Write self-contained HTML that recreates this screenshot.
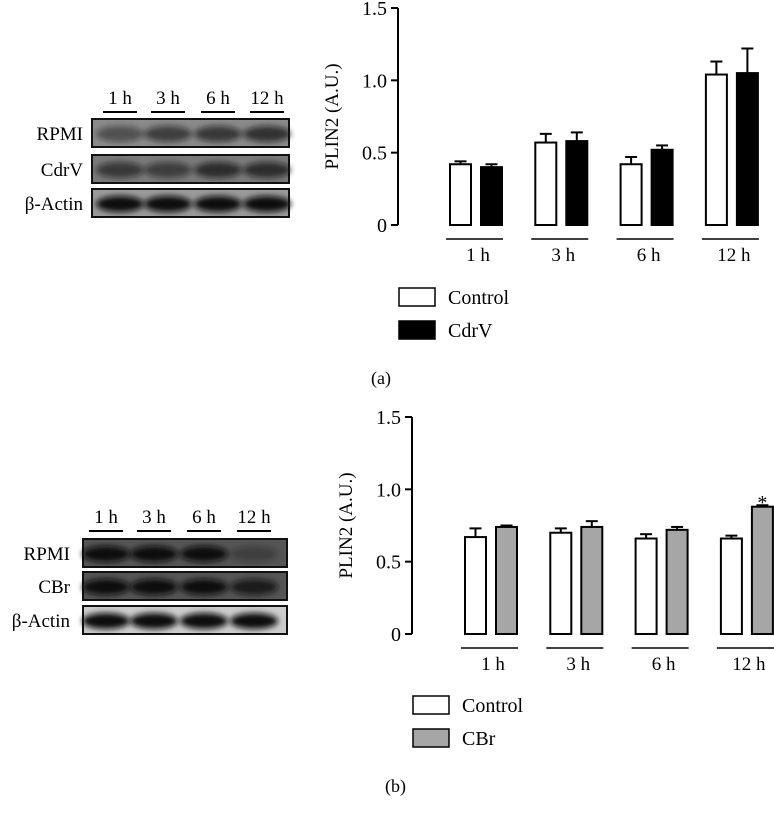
<!DOCTYPE html>
<html><head><meta charset="utf-8"><style>
body{margin:0;background:#fff}
svg{display:block;font-family:"Liberation Serif",serif}
</style></head><body>
<svg id="s" width="774" height="814" viewBox="0 0 774 814">
<defs><filter id="bl" x="-30%" y="-60%" width="160%" height="220%"><feGaussianBlur stdDeviation="3"/></filter></defs>
<g id="blots"></g>
<g id="chartA"></g>
<g id="chartB"></g>
</svg>
<script>
const categories=["1 h","3 h","6 h","12 h"];
const ticks=[0,0.5,1.0,1.5];
const tickLabels=["0","0.5","1.0","1.5"];
const controlA=[0.42,0.57,0.42,1.04];
const controlAErr=[0.02,0.06,0.05,0.09];
const cdrvA=[0.40,0.58,0.52,1.05];
const cdrvAErr=[0.02,0.06,0.03,0.17];
const controlB=[0.67,0.70,0.66,0.66];
const controlBErr=[0.06,0.03,0.03,0.02];
const cbrB=[0.74,0.74,0.72,0.88];
const cbrBErr=[0.01,0.04,0.02,0.01];
const NS="http://www.w3.org/2000/svg";
function mk(p,t,a,txt){const e=document.createElementNS(NS,t);for(const k in a)e.setAttribute(k,a[k]);if(txt!=null)e.textContent=txt;p.appendChild(e);return e;}

function chart(g,cfg){
  const y=v=>cfg.y0-(v/1.5)*(cfg.y0-cfg.y15);
  cfg.yf=y;
  let a=mk(g,'line',{x1:cfg.ax,y1:cfg.y15,x2:cfg.ax,y2:cfg.y0,stroke:'#000','stroke-width':2});
  
  ticks.forEach((t,i)=>{
    let l=mk(g,'line',{x1:cfg.ax-7,y1:y(t),x2:cfg.ax,y2:y(t),stroke:'#000','stroke-width':2});
    
    let tx=mk(g,'text',{x:cfg.ax-11,y:y(t)+7,'text-anchor':'end','font-size':20},tickLabels[i]);
    
  });
  let yt=mk(g,'text',{transform:`translate(${cfg.ax-60},${(cfg.y0+cfg.y15)/2}) rotate(-90)`,'text-anchor':'middle','font-size':19},'PLIN2 (A.U.)');
  
  categories.forEach((c,i)=>{
    const gx=cfg.g0+i*cfg.gs, bw=21;
    [[cfg.s1,cfg.e1,'#fff'],[cfg.s2,cfg.e2,cfg.fill2]].forEach((s,j)=>{
      const x=gx+j*31, v=s[0][i], e=s[1][i];
      let el=mk(g,'line',{x1:x+bw/2,y1:y(v),x2:x+bw/2,y2:y(v+e),stroke:'#000','stroke-width':2});
      
      let ec=mk(g,'line',{x1:x+bw/2-6,y1:y(v+e),x2:x+bw/2+6,y2:y(v+e),stroke:'#000','stroke-width':2});
      
      let r=mk(g,'rect',{x:x,y:y(v),width:bw,height:y(0)-y(v),fill:s[2],stroke:'#000','stroke-width':2});
      
    });
    let gl=mk(g,'line',{x1:gx-4,y1:cfg.gly,x2:gx+53,y2:cfg.gly,stroke:'#000','stroke-width':1.5});
    
    let lb=mk(g,'text',{x:gx+28,y:cfg.gly+22,'text-anchor':'middle','font-size':19},c);
    
  });
  [['#fff','Control'],[cfg.fill2,cfg.label2]].forEach((L,k)=>{
    const ly=cfg.ly+k*33;
    let b=mk(g,'rect',{x:cfg.ax+1,y:ly,width:36,height:18,fill:L[0],stroke:'#000','stroke-width':1.5});
    
    let t=mk(g,'text',{x:cfg.ax+50,y:ly+16,'font-size':20},L[1]);
    
  });
  let p=mk(g,'text',{x:cfg.ax-27,y:cfg.ly+96,'font-size':18},cfg.panel);
  
}
chart(document.getElementById('chartA'),{ax:398,y0:225,y15:8,g0:450,gs:85.3,s1:controlA,e1:controlAErr,s2:cdrvA,e2:cdrvAErr,fill2:'#000',n2:'cdrv',label2:'CdrV',gly:239,ly:288,panel:'(a)'});
const gB=document.getElementById('chartB');
const cfgB={ax:412,y0:634,y15:417,g0:465,gs:85.3,s1:controlB,e1:controlBErr,s2:cbrB,e2:cbrBErr,fill2:'#a6a6a6',n2:'cbr',label2:'CBr',gly:648,ly:696,panel:'(b)'};
chart(gB,cfgB);
let st=mk(gB,'text',{x:cfgB.g0+3*cfgB.gs+31+10.5,y:cfgB.yf(cbrB[3]+cbrBErr[3])+4,'text-anchor':'middle','font-size':20},'*');


// blots
const blots=document.getElementById('blots');
function blot(cfg){
  cfg.times.forEach((t,i)=>{
    const cx=cfg.lx[i];
    let tl=mk(blots,'text',{x:cx,y:cfg.ty,'text-anchor':'middle','font-size':19},t);
    
    let ul=mk(blots,'line',{x1:cx-17,y1:cfg.ty+8,x2:cx+17,y2:cfg.ty+8,stroke:'#000','stroke-width':2});
    
  });
  cfg.rows.forEach((r,k)=>{
    const yy=r[1];
    let lab=mk(blots,'text',{x:cfg.labx,y:yy+21,'text-anchor':'end','font-size':19},r[0]);
    
    let bg=mk(blots,'rect',{x:cfg.bx,y:yy,width:cfg.bw,height:28,fill:r[2],stroke:'#111','stroke-width':2});
    
    cfg.lx.forEach((cx,i)=>{
      let e=mk(blots,'ellipse',{cx:cx,cy:yy+15,rx:24,ry:8,fill:'#111',opacity:r[3][i],filter:'url(#bl)'});
      
    });
  });
}
blot({times:categories,lx:[120,168,218,267],ty:104,labx:83,bx:92,bw:197,
 rows:[['RPMI',119,'#8a8a8a',[0.45,0.6,0.65,0.7]],['CdrV',155,'#7a7a7a',[0.6,0.55,0.7,0.7]],['β-Actin',189,'#9a9a9a',[1,1,1,1]]]});
blot({times:categories,lx:[106,154,204,254],ty:523,labx:70,bx:83,bw:204,
 rows:[['RPMI',539,'#555',[1,1,1,0.3]],['CBr',572,'#555',[1,1,1,0.8]],['β-Actin',606,'#ccc',[1,1,1,1]]]});
</script>
</body></html>
